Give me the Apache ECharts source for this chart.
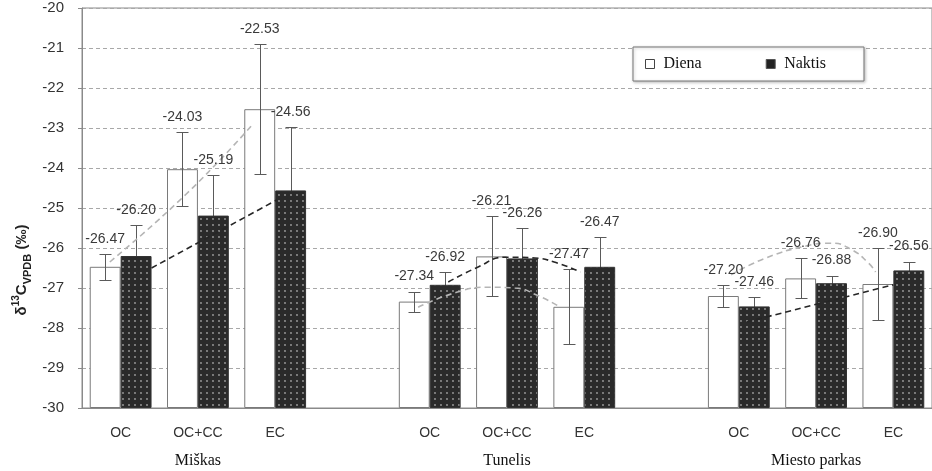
<!DOCTYPE html>
<html>
<head>
<meta charset="utf-8">
<script src="https://cdn.jsdelivr.net/npm/echarts@6/dist/echarts.min.js"></script>
<style>
  html, body { margin: 0; padding: 0; background: #fff; }
  #chart { width: 932px; height: 471px; }
</style>
</head>
<body>
<div id="chart"></div>
<script>
// Sample fractions per site; empty slots separate the three sites.
const categories = ['OC', 'OC+CC', 'EC', '', 'OC', 'OC+CC', 'EC', '', 'OC', 'OC+CC', 'EC'];
const sites = ['Miškas', 'Tunelis', 'Miesto parkas'];
const siteSlots = [1, 5, 9];

// Mean δ13C values (‰) and their error half-widths
const dienaValues  = [-26.47, -24.03, -22.53, null, -27.34, -26.21, -27.47, null, -27.20, -26.76, -26.90];
const naktisValues = [-26.20, -25.19, -24.56, null, -26.92, -26.26, -26.47, null, -27.46, -26.88, -26.56];
const dienaErrors  = [0.32, 0.92, 1.62, null, 0.25, 1.00, 0.94, null, 0.28, 0.50, 0.90];
const naktisErrors = [0.77, 1.01, 1.58, null, 0.32, 0.76, 0.74, null, 0.24, 0.19, 0.22];

// Trend curves per site, [slot position, δ13C]
const dienaTrends = [
  [[-0.14, -26.35], [0.85, -24.65], [1.69, -22.95]],
  [[3.85, -27.48], [4.36, -27.10], [4.75, -26.98], [5.10, -27.00], [5.39, -27.18], [5.69, -27.48]],
  [[7.90, -26.67], [8.35, -26.25], [8.87, -25.95], [9.19, -25.88], [9.45, -26.03], [9.68, -26.38], [9.77, -26.60]]
];
const naktisTrends = [
  [[0.40, -26.50], [2.02, -24.80]],
  [[4.24, -26.85], [4.62, -26.48], [4.97, -26.23], [5.36, -26.25], [5.61, -26.35], [5.95, -26.60]],
  [[8.10, -27.85], [10.0, -26.92]]
];

const yTicks = { min: -30, max: -20, step: 1 };

// Dotted fill for the night bars
const tile = document.createElement('canvas');
tile.width = 6; tile.height = 6;
const tg = tile.getContext('2d');
tg.fillStyle = '#2a2a2a';
tg.fillRect(0, 0, 6, 6);
tg.fillStyle = 'rgba(255,255,255,0.55)';
tg.beginPath(); tg.arc(3, 3, 0.9, 0, Math.PI * 2); tg.fill();

const BAR_SHARE = 0.4;   // each bar's share of a category band
const SANS = '"Liberation Sans", Arial, sans-serif';
const SERIF = '"Liberation Serif", "Times New Roman", serif';

function toTriples(values, errors) {
  return values.map((v, i) => (v == null ? null : [i, v, errors[i]])).filter(Boolean);
}

function barCenter(api, idx, v, side) {
  const band = api.size([1, 0])[0];
  return api.coord([idx, v])[0] + side * band * BAR_SHARE / 2;
}

function errorBars(side) {
  return function (params, api) {
    const idx = api.value(0), v = api.value(1), e = api.value(2);
    const cx = Math.round(barCenter(api, idx, v, side)) + 0.5;
    const top = Math.round(api.coord([idx, v + e])[1]) + 0.5;
    const bot = Math.round(api.coord([idx, v - e])[1]) + 0.5;
    const cap = 6;
    const style = { stroke: '#5a5a5a', lineWidth: 1 };
    return {
      type: 'group',
      children: [
        { type: 'line', shape: { x1: cx, y1: top, x2: cx, y2: bot }, style },
        { type: 'line', shape: { x1: cx - cap, y1: top, x2: cx + cap, y2: top }, style },
        { type: 'line', shape: { x1: cx - cap, y1: bot, x2: cx + cap, y2: bot }, style }
      ]
    };
  };
}

function valueLabels(side) {
  return function (params, api) {
    const idx = api.value(0), v = api.value(1), e = api.value(2);
    const cx = barCenter(api, idx, v, side);
    const top = api.coord([idx, v + e])[1];
    return {
      type: 'text',
      x: cx, y: top - 15,
      style: {
        text: v.toFixed(2),
        fill: '#3a3a3a',
        font: '14px ' + SANS,
        align: 'center',
        verticalAlign: 'middle'
      }
    };
  };
}

const trendSeries = [];
dienaTrends.forEach(pts => trendSeries.push({
  type: 'line', xAxisIndex: 2, data: pts, smooth: 0.5, symbol: 'none', silent: true, z: 6,
  lineStyle: { color: '#b5b5b5', width: 1.6, type: [6, 4] }
}));
naktisTrends.forEach(pts => trendSeries.push({
  type: 'line', xAxisIndex: 2, data: pts, smooth: 0.5, symbol: 'none', silent: true, z: 6,
  lineStyle: { color: '#262626', width: 1.6, type: [6, 4] }
}));

const chart = echarts.init(document.getElementById('chart'));
chart.setOption({
  animation: false,
  backgroundColor: '#fff',
  grid: { left: 82, top: 8, right: -5, bottom: 63, show: true, borderColor: '#8a8a8a', borderWidth: 1 },
  legend: {
    left: 633, top: 47,
    padding: [9, 38, 9, 12],
    itemWidth: 9, itemHeight: 9, itemGap: 64,
    icon: 'rect',
    backgroundColor: '#fff',
    borderColor: '#777', borderWidth: 1,
    shadowColor: 'rgba(0,0,0,0.25)', shadowBlur: 3, shadowOffsetX: 1, shadowOffsetY: 1,
    textStyle: { fontFamily: SERIF, fontSize: 16, color: '#111', padding: [0, 0, 0, 4] },
    data: [
      { name: 'Diena', itemStyle: { color: '#fff', borderColor: '#444', borderWidth: 1 } },
      { name: 'Naktis', itemStyle: { color: '#222', borderColor: '#555', borderWidth: 1 } }
    ]
  },
  xAxis: [
    {
      type: 'category', data: categories, boundaryGap: true,
      axisLine: { onZero: false, lineStyle: { color: '#8a8a8a' } },
      axisTick: { show: false },
      axisLabel: { interval: 0, margin: 18, fontFamily: SANS, fontSize: 14, color: '#333' }
    },
    {
      type: 'category', position: 'bottom',
      data: categories.map((c, i) => { const k = siteSlots.indexOf(i); return k >= 0 ? sites[k] : ''; }),
      axisLine: { show: false, onZero: false }, axisTick: { show: false },
      axisLabel: { interval: 0, margin: 45, fontFamily: SERIF, fontSize: 16, color: '#111' }
    },
    { type: 'value', min: -0.5, max: categories.length - 0.5, show: false, axisLine: { onZero: false } }
  ],
  yAxis: {
    type: 'value', min: yTicks.min, max: yTicks.max, interval: yTicks.step, startValue: yTicks.min,
    axisLine: { show: true, onZero: false, lineStyle: { color: '#8a8a8a' } },
    axisTick: { show: true, length: 4, lineStyle: { color: '#8a8a8a' } },
    axisLabel: { margin: 18, fontFamily: SANS, fontSize: 15, color: '#333' },
    splitLine: { show: true, lineStyle: { color: '#a8a8a8', type: [4, 3], width: 1 } }
  },
  graphic: [{
    type: 'text',
    x: 22, y: 270,
    rotation: Math.PI / 2,
    style: {
      text: '{a|δ}{sup|13}{a|C}{sub|VPDB}{a| (‰)}',
      align: 'center', verticalAlign: 'middle',
      rich: {
        a: { fontFamily: SANS, fontSize: 15, fontWeight: 'bold', fill: '#222', lineHeight: 22 },
        sup: { fontFamily: SANS, fontSize: 10, fontWeight: 'bold', fill: '#222', lineHeight: 22, verticalAlign: 'top' },
        sub: { fontFamily: SANS, fontSize: 11, fontWeight: 'bold', fill: '#222', lineHeight: 22, verticalAlign: 'bottom' }
      }
    }
  }],
  series: [
    {
      name: 'Diena', type: 'bar', data: dienaValues, barWidth: '40%', barGap: '0%', z: 2,
      itemStyle: { color: '#fff', borderColor: '#7a7a7a', borderWidth: 1 }
    },
    {
      name: 'Naktis', type: 'bar', data: naktisValues, barWidth: '40%', barGap: '0%', z: 2,
      itemStyle: { color: { image: tile, repeat: 'repeat' }, borderColor: '#333', borderWidth: 1 }
    },
    { type: 'custom', name: 'Diena ±', data: toTriples(dienaValues, dienaErrors), renderItem: errorBars(-1), z: 3, silent: true },
    { type: 'custom', name: 'Naktis ±', data: toTriples(naktisValues, naktisErrors), renderItem: errorBars(1), z: 1, silent: true },
    ...trendSeries,
    { type: 'custom', name: 'Diena labels', data: toTriples(dienaValues, dienaErrors), renderItem: valueLabels(-1), z: 8, silent: true },
    { type: 'custom', name: 'Naktis labels', data: toTriples(naktisValues, naktisErrors), renderItem: valueLabels(1), z: 8, silent: true }
  ]
});
</script>
</body>
</html>
